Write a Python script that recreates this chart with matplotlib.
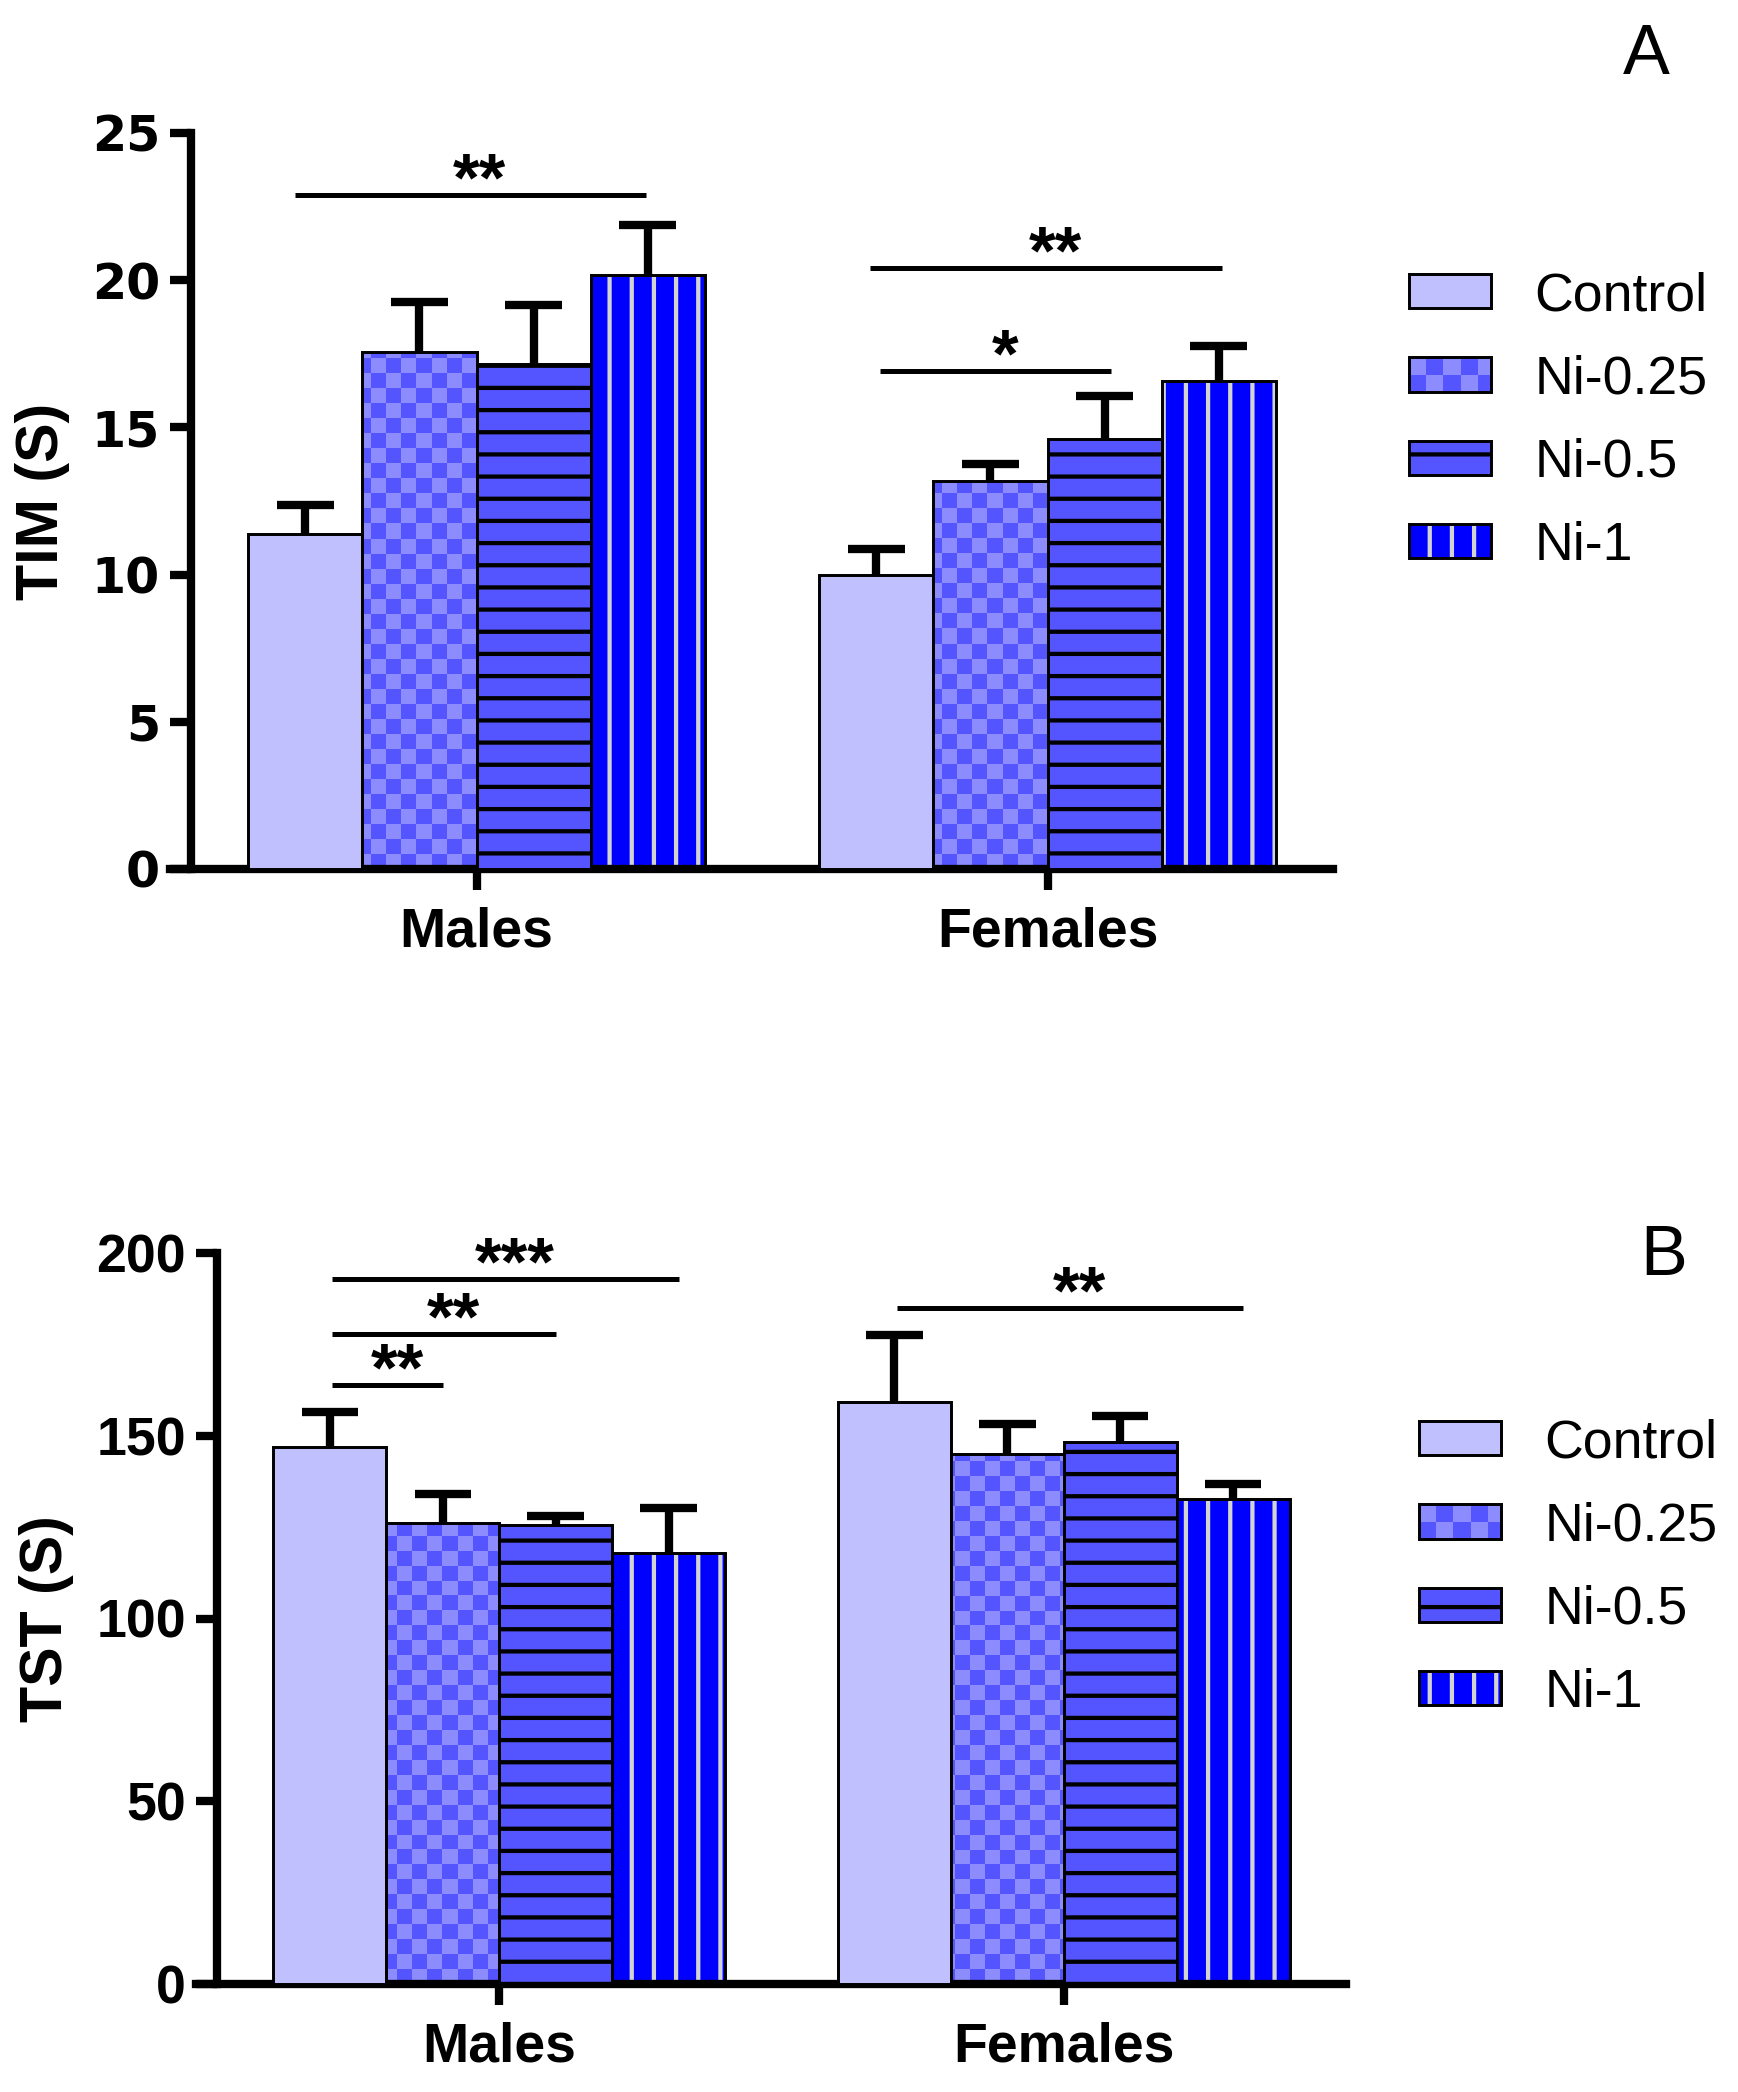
import numpy as np
import matplotlib
matplotlib.use("Agg")
import matplotlib.pyplot as plt
from matplotlib.patches import Patch, Rectangle
from matplotlib.colors import ListedColormap
from matplotlib.legend_handler import HandlerBase

# ---- data ----
groups = ['Males', 'Females']
treatments = ['Control', 'Ni-0.25', 'Ni-0.5', 'Ni-1']

# panel A: immobility time, one row per treatment, [Males, Females]
tim_means = [[11.37, 9.98], [17.56, 13.17], [17.17, 14.59], [20.17, 16.59]]
tim_sem = [[0.99, 0.89], [1.69, 0.59], [1.98, 1.49], [1.72, 1.19]]
tim_sig_x0 = [-0.318, 0.690, 0.706]
tim_sig_x1 = [0.296, 1.306, 1.112]
tim_sig_y = [22.9, 20.42, 16.92]
tim_sig_txt = ['**', '**', '*']

# panel B: tail suspension test
tst_means = [[147.0, 159.3], [126.2, 145.1], [125.5, 148.4], [118.0, 132.8]]
tst_sem = [[9.4, 18.3], [7.9, 8.2], [2.6, 7.1], [12.3, 4.0]]
tst_sig_x0 = [-0.296, -0.296, -0.296, 0.704]
tst_sig_x1 = [-0.099, 0.100, 0.318, 1.318]
tst_sig_y = [163.8, 177.8, 192.9, 184.9]
tst_sig_txt = ['**', '**', '***', '**']

# ---- style ----
W, H, DPI = 1738, 2092, 133
CTRL = '#C0C0FF'
MID = '#5555FF'
LIGHT = '#8C8CFF'
BLUE = '#0000FF'
GRAY = '#D3D3D3'
BAR_W = 0.2
OFFSETS = [-0.3, -0.1, 0.1, 0.3]
EDGE_LW = 1.6
ERR_LW = 4.5
SPINE_LW = 4.5
CHECK_PX = 15

plt.rcParams['font.family'] = 'Liberation Sans'
plt.rcParams['hatch.linewidth'] = 2.3


class CheckerHandler(HandlerBase):
    def create_artists(self, legend, orig_handle, xdescent, ydescent,
                       width, height, fontsize, trans):
        x0, y0 = -xdescent, -ydescent
        arts = [Rectangle((x0, y0), width, height, facecolor=MID,
                          edgecolor='none', transform=trans)]
        cell = height / 2.0
        ncol = int(np.ceil(width / cell))
        for i in range(ncol):
            for j in range(2):
                if (i + j) % 2 == 1:
                    w = min(cell, width - i * cell)
                    arts.append(Rectangle((x0 + i * cell, y0 + j * cell), w, cell,
                                          facecolor=LIGHT, edgecolor='none',
                                          transform=trans))
        arts.append(Rectangle((x0, y0), width, height, fill=False,
                              edgecolor='black', lw=EDGE_LW, transform=trans))
        return arts


def draw_panel(ax, means, sems, sig_x0, sig_x1, sig_y, sig_txt,
               ymax, ystep, tick_font, ylabel, label_x):
    x = np.arange(len(groups))
    nx = int(round(ax.bbox.width / CHECK_PX))
    ny = int(round(ax.bbox.height / CHECK_PX))
    checker = np.add.outer(np.arange(ny), np.arange(nx)) % 2
    for i, (m, s) in enumerate(zip(means, sems)):
        xs = x + OFFSETS[i]
        m = np.array(m)
        s = np.array(s)
        if i == 0:
            ax.bar(xs, m, BAR_W, color=CTRL, edgecolor='black', lw=EDGE_LW, zorder=3)
        elif i == 1:
            base = ax.bar(xs, m, BAR_W, color=MID, lw=0, zorder=2)
            for p in base:
                im = ax.imshow(checker, cmap=ListedColormap([MID, LIGHT]),
                               extent=(0, 1, 0, 1), transform=ax.transAxes,
                               aspect='auto', interpolation='nearest', zorder=2.5)
                im.set_clip_path(p)
            ax.bar(xs, m, BAR_W, fill=False, edgecolor='black', lw=EDGE_LW, zorder=3)
        elif i == 2:
            ax.bar(xs, m, BAR_W, color=MID, edgecolor='black', hatch='-',
                   lw=EDGE_LW, zorder=3)
        else:
            ax.bar(xs, m, BAR_W, color=BLUE, edgecolor=GRAY, hatch='|', lw=0, zorder=2)
            ax.bar(xs, m, BAR_W, fill=False, edgecolor='black', lw=EDGE_LW, zorder=3)
        # upper error bars only
        ax.vlines(xs, m, m + s, color='black', lw=ERR_LW, zorder=1.5)
        ax.hlines(m + s, xs - BAR_W / 4, xs + BAR_W / 4, color='black',
                  lw=ERR_LW, zorder=1.5)

    for a, b, yy, t in zip(sig_x0, sig_x1, sig_y, sig_txt):
        ax.plot([a, b], [yy, yy], color='black', lw=2.7, solid_capstyle='butt')
        ax.annotate(t, xy=((a + b) / 2, yy), xytext=(5, -3),
                    textcoords='offset points', ha='center', va='baseline',
                    fontsize=37, fontweight='bold')

    ax.set_xlim(-0.5, 1.5)
    ax.set_ylim(0, ymax)
    yt = np.arange(0, ymax + 1, ystep)
    ax.set_yticks(yt, [str(int(v)) for v in yt], fontweight='bold', **tick_font)
    ax.set_xticks(x, groups, fontsize=30, fontweight='bold')
    ax.tick_params(axis='y', length=11.4, width=SPINE_LW, pad=5.4)
    ax.tick_params(axis='x', length=11.4, width=SPINE_LW, pad=9)
    for sp in ['top', 'right']:
        ax.spines[sp].set_visible(False)
    for sp in ['left', 'bottom']:
        ax.spines[sp].set_linewidth(SPINE_LW)
    ext = 21.0 / ax.bbox.width * 2.0
    ax.spines['bottom'].set_bounds(-0.5 - ext, 1.5)
    ax.set_ylabel(ylabel, fontsize=32, fontweight='bold')
    ax.yaxis.set_label_coords(label_x, 0.5)


fig = plt.figure(figsize=(W / DPI, H / DPI), dpi=DPI)
axA = fig.add_axes([191 / W, 1 - 869 / H, (1333 - 191) / W, (869 - 133) / H])
axB = fig.add_axes([217 / W, 1 - 1984 / H, (1346 - 217) / W, (1984 - 1253) / H])

draw_panel(axA, tim_means, tim_sem, tim_sig_x0, tim_sig_x1, tim_sig_y, tim_sig_txt,
           25, 5, {'fontsize': 26.5, 'family': 'DejaVu Sans'}, 'TIM (S)', -0.106)
draw_panel(axB, tst_means, tst_sem, tst_sig_x0, tst_sig_x1, tst_sig_y, tst_sig_txt,
           200, 50, {'fontsize': 29}, 'TST (S)', -0.127)

check_handle = Patch(facecolor=MID, edgecolor='black', lw=EDGE_LW)
handles = [Patch(facecolor=CTRL, edgecolor='black', lw=EDGE_LW),
           check_handle,
           Patch(facecolor=MID, edgecolor='black', hatch='-', lw=EDGE_LW),
           (Patch(facecolor=BLUE, edgecolor=GRAY, hatch='|', lw=0),
            Patch(fill=False, edgecolor='black', lw=EDGE_LW))]

for cx, cy in [(1409, 421), (1419, 1568)]:
    fig.legend(handles, treatments, loc='center left',
               bbox_to_anchor=(cx / W, 1 - cy / H), frameon=False, fontsize=29,
               handlelength=1.54, handleheight=0.61, handletextpad=0.8,
               labelspacing=0.62, borderpad=0, borderaxespad=0,
               handler_map={check_handle: CheckerHandler()})

fig.text(1646 / W, 1 - 74 / H, 'A', fontsize=38, ha='center', va='baseline')
fig.text(1664 / W, 1 - 1275 / H, 'B', fontsize=38, ha='center', va='baseline')

fig.savefig('out.png', dpi=DPI)
